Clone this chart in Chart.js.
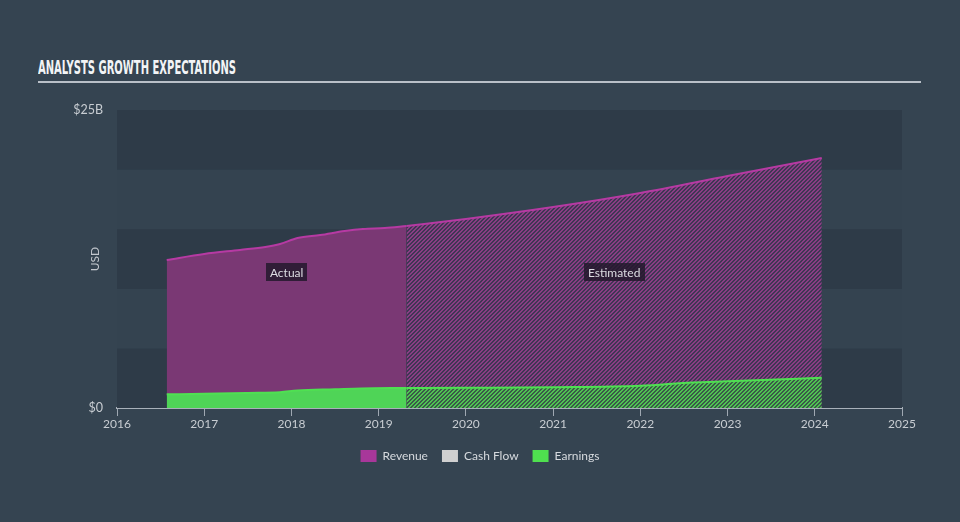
<!DOCTYPE html>
<html>
<head>
<meta charset="utf-8">
<script src="https://cdn.jsdelivr.net/npm/chart.js@4.4.1/dist/chart.umd.min.js"></script>
<style>
  html, body { margin: 0; padding: 0; background: #354451; }
  #wrap { position: relative; width: 960px; height: 522px; overflow: hidden; background: #354451; }
  #title { position: absolute; left: 38px; top: 56px; font-family: "Liberation Sans Narrow", "DejaVu Sans Condensed", "Liberation Sans", sans-serif; font-weight: bold; font-size: 19px; color: #f2f4f6; white-space: nowrap; transform-origin: 0 0; letter-spacing: 0px; }
  #rule { position: absolute; left: 38px; top: 81px; width: 883px; height: 2px; background: #b9c0c8; }
  canvas { position: absolute; left: 0; top: 0; }
</style>
</head>
<body>
<div id="wrap">
  <div id="title">ANALYSTS GROWTH EXPECTATIONS</div>
  <div id="rule"></div>
  <canvas id="c" width="960" height="522"></canvas>
</div>
<script>
// ---- data ----
const revenueActualX = [2016.57, 2017.0, 2017.41, 2017.70, 2017.87, 2018.07, 2018.33, 2018.61, 2018.82, 2019.07, 2019.32];
const revenueActualY = [12.42, 12.92, 13.26, 13.51, 13.76, 14.26, 14.51, 14.85, 15.02, 15.10, 15.27];
const revenueEstX = [2019.32, 2020.0, 2021.0, 2022.0, 2023.0, 2024.08];
const revenueEstY = [15.27, 15.86, 16.86, 18.04, 19.46, 20.97];
const earningsActualX = [2016.57, 2017.0, 2017.5, 2017.87, 2018.07, 2018.5, 2018.8, 2019.32];
const earningsActualY = [1.15, 1.19, 1.26, 1.32, 1.47, 1.57, 1.64, 1.68];
const earningsEstX = [2019.32, 2020.0, 2021.0, 2022.0, 2022.6, 2023.0, 2024.08];
const earningsEstY = [1.68, 1.70, 1.74, 1.86, 2.14, 2.24, 2.54];
const legendNames = ["Revenue", "Cash Flow", "Earnings"];
const yTickLabels = {0: "$0", 25: "$25B"};
const xMin = 2016, xMax = 2025, yMin = 0, yMax = 25;
const bandStep = 5;
const annotationY = 11.4;

// fit title width
(function(){
  const t = document.getElementById('title');
  const w = t.getBoundingClientRect().width;
  t.style.transform = 'scaleX(' + (198 / w) + ')';
})();

function toPoints(xs, ys) { return xs.map((x, i) => ({x: x, y: ys[i]})); }

function hatch(base, stripe) {
  const s = 4;
  const c = document.createElement('canvas');
  c.width = s; c.height = s;
  const g = c.getContext('2d');
  g.fillStyle = base; g.fillRect(0, 0, s, s);
  g.fillStyle = stripe;
  for (let i = 0; i < s; i++) {
    g.fillRect((s - 1 - i), i, 1, 1);
    g.fillRect((s - i) % s, i, 1, 1);
  }
  return g.createPattern(c, 'repeat');
}
const ctx0 = document.getElementById('c').getContext('2d');
const revHatch = hatch('#3f3654', '#8a3d84');
const earnHatch = hatch('#3a5a48', '#4fc352');

const COLORS = {
  revLine: '#b63aa3', revFill: '#7a3874', revLegend: '#a8379a',
  earnLine: '#4fe052', earnFill: '#4fd457', earnLegend: '#4fe04f',
  cashLegend: '#d0d0d0'
};

const bandsPlugin = {
  id: 'bands',
  afterLayout(chart) {
    const l = chart.legend;
    if (l) { l.left = 0; l.right = chart.width; l.width = chart.width; }
  },
  beforeDatasetsDraw(chart) {
    const {ctx, chartArea, scales: {y}} = chart;
    ctx.save();
    for (let v = yMin, i = 0; v < yMax; v += bandStep, i++) {
      const top = y.getPixelForValue(v + bandStep), bot = y.getPixelForValue(v);
      ctx.fillStyle = (i % 2 === 0) ? '#2e3b48' : '#344350';
      ctx.fillRect(chartArea.left, top, chartArea.right - chartArea.left, bot - top);
    }
    ctx.restore();
  }
};

const labelsPlugin = {
  id: 'areaLabels',
  afterDatasetsDraw(chart) {
    const {ctx, scales: {x, y}} = chart;
    const items = [
      {text: 'Actual', v: (revenueActualX[0] + revenueActualX[revenueActualX.length - 1]) / 2},
      {text: 'Estimated', v: (revenueEstX[0] + revenueEstX[revenueEstX.length - 1]) / 2}
    ];
    ctx.save();
    ctx.font = '12px Lato, "Open Sans", sans-serif';
    ctx.textAlign = 'center'; ctx.textBaseline = 'middle';
    items.forEach(it => {
      const px = x.getPixelForValue(it.v), py = y.getPixelForValue(annotationY);
      const w = ctx.measureText(it.text).width + 8, h = 18;
      ctx.fillStyle = 'rgba(35,25,45,0.85)';
      ctx.fillRect(Math.round(px - w / 2), Math.round(py - h / 2), Math.round(w), h);
      ctx.fillStyle = '#dcdce2';
      ctx.fillText(it.text, px, py + 1);
    });
    const yc = (chart.chartArea.top + chart.chartArea.bottom) / 2;
    ctx.translate(95, yc);
    ctx.rotate(-Math.PI / 2);
    ctx.fillStyle = '#c3c8ce';
    ctx.font = '12px Lato, "Open Sans", sans-serif';
    ctx.fillText('USD', 0, 0);
    ctx.restore();
  }
};

new Chart(ctx0, {
  type: 'line',
  data: {
    datasets: [
      { label: 'Earnings', data: toPoints(earningsActualX, earningsActualY), borderColor: COLORS.earnLine, backgroundColor: COLORS.earnFill, fill: 'origin', borderWidth: 2 },
      { label: 'Earnings (estimated)', data: toPoints(earningsEstX, earningsEstY), borderColor: COLORS.earnLine, backgroundColor: earnHatch, fill: 'origin', borderWidth: 2 },
      { label: 'Cash Flow', data: [], borderColor: COLORS.cashLegend, backgroundColor: COLORS.cashLegend },
      { label: 'Revenue', data: toPoints(revenueActualX, revenueActualY), borderColor: COLORS.revLine, backgroundColor: COLORS.revFill, fill: 'origin', borderWidth: 2 },
      { label: 'Revenue (estimated)', data: toPoints(revenueEstX, revenueEstY), borderColor: COLORS.revLine, backgroundColor: revHatch, fill: 'origin', borderWidth: 2 }
    ]
  },
  options: {
    responsive: false,
    animation: false,
    elements: { point: { radius: 0 }, line: { tension: 0.3, cubicInterpolationMode: 'monotone' } },
    layout: { padding: { top: 110, right: 58, left: 0, bottom: 50 } },
    scales: {
      x: {
        type: 'linear', min: xMin, max: xMax,
        afterFit(s) { s.height = 28; },
        ticks: { stepSize: 1, color: '#c8cdd2', font: { family: 'Lato, "Open Sans", sans-serif', size: 12 }, padding: 1, callback: v => String(v) },
        grid: { drawOnChartArea: false, drawTicks: true, tickLength: 8, color: '#9fa8b2', lineWidth: 1 },
        border: { display: true, color: '#a9b1ba', width: 2 }
      },
      y: {
        min: yMin, max: yMax,
        afterFit(s) { s.width = 117; },
        ticks: { stepSize: bandStep, color: '#c8cdd2', font: { family: 'Lato, "Open Sans", sans-serif', size: 12.5 }, padding: 14,
          callback: v => (yTickLabels[v] !== undefined ? yTickLabels[v] : '') },
        grid: { display: false, drawTicks: false },
        border: { display: false }
      }
    },
    plugins: {
      tooltip: { enabled: false },
      legend: {
        position: 'bottom',
        labels: {
          color: '#d6dade', font: { family: 'Lato, "Open Sans", sans-serif', size: 12 },
          boxWidth: 16, boxHeight: 12, padding: 14,
          generateLabels(chart) {
            const fills = {Revenue: COLORS.revLegend, 'Cash Flow': COLORS.cashLegend, Earnings: COLORS.earnLegend};
            return legendNames.map(n => ({ text: n, fillStyle: fills[n], strokeStyle: fills[n], lineWidth: 0, hidden: false, fontColor: '#d6dade',
              datasetIndex: chart.data.datasets.findIndex(d => d.label === n) }));
          }
        }
      }
    }
  },
  plugins: [bandsPlugin, labelsPlugin]
});
</script>
</body>
</html>
